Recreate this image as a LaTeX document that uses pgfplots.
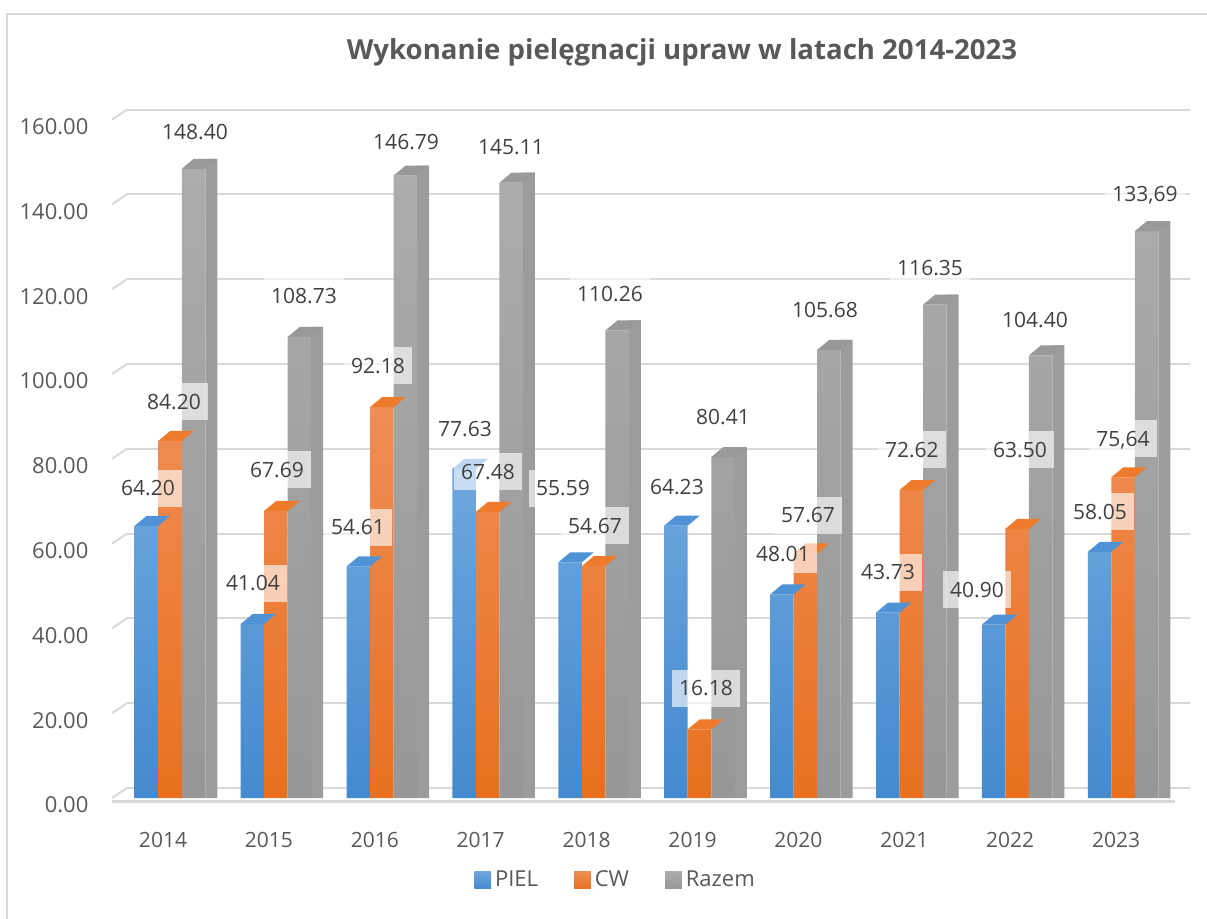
\documentclass[border=0pt]{standalone}
\usepackage{pgfplots}
\pgfplotsset{compat=1.18}
\usepackage{pgfplotstable}
\usepackage{fontspec}
\setmainfont{Open Sans}
\definecolor{txt}{HTML}{595959}
\definecolor{lbl}{HTML}{404040}
\definecolor{gridc}{HTML}{D9D9D9}
\definecolor{framec}{HTML}{D9D9D9}
\definecolor{bluetop}{HTML}{6FA7DD}
\definecolor{bluebot}{HTML}{438ACF}
\definecolor{bluecap}{HTML}{4F93D6}
\definecolor{ortop}{HTML}{F08D55}
\definecolor{orbot}{HTML}{E8701F}
\definecolor{orcap}{HTML}{EE7A2C}
\definecolor{grtop}{HTML}{ACACAC}
\definecolor{grbot}{HTML}{979797}
\definecolor{grcap}{HTML}{999999}
\definecolor{grside}{HTML}{9C9C9C}

\pgfdeclareplotmark{capmark}{%
  \pgfpathmoveto{\pgfqpoint{-5.875bp}{0bp}}%
  \pgfpathlineto{\pgfqpoint{5.875bp}{0bp}}%
  \pgfpathlineto{\pgfqpoint{11.875bp}{5bp}}%
  \pgfpathlineto{\pgfqpoint{0.125bp}{5bp}}%
  \pgfpathclose
  \pgfusepathqfill}

\pgfplotstableread{
x PIEL CW Razem
0 64.20 84.20 148.40
1 41.04 67.69 108.73
2 54.61 92.18 146.79
3 77.63 67.48 145.11
4 55.59 54.67 110.26
5 64.23 16.18 80.41
6 48.01 57.67 105.68
7 43.73 72.62 116.35
8 40.90 63.50 104.40
9 58.05 75.64 133.69
}\datatable

\pgfplotstableread{
lx ly lab
-0.208 73.1 64.20
0.784 50.7 41.04
1.775 63.9 54.61
2.786 87.0 77.63
3.711 73.1 55.59
4.787 73.3 64.23
5.788 57.5 48.01
6.780 53.3 43.73
7.620 49.1 40.90
8.782 67.5 58.05
0.038 93.4 84.20
1.010 77.4 67.69
1.964 101.9 92.18
3.003 76.9 67.48
4.013 64.2 54.67
5.061 25.9 16.18
6.025 66.7 57.67
7.006 82.1 72.62
8.026 82.1 63.50
8.999 84.7 75,64
0.236 157.1 148.40
1.265 118.4 108.73
2.229 154.7 146.79
3.220 153.5 145.11
4.155 118.9 110.26
5.222 89.9 80.41
6.185 115.1 105.68
7.177 125.0 116.35
8.168 112.7 104.40
9.207 142.5 133,69
}\labtable

\begin{document}
\begin{tikzpicture}
\useasboundingbox (0bp,0bp) rectangle (603.5bp,459.5bp);
\draw[framec, line width=1bp] (3.5bp,-2bp) -- (3.5bp,452.5bp) -- (605bp,452.5bp);
\node[font=\bfseries\fontsize{13.8bp}{16bp}\selectfont, text=txt] at (341bp,433.5bp) {Wykonanie pielęgnacji upraw w latach 2014-2023};
\begin{axis}[
  at={(63.5bp,60.5bp)}, anchor=south west,
  scale only axis, width=531.5bp, height=344.5bp,
  xmin=-0.406, xmax=9.632, ymin=0, ymax=162.5,
  clip=false,
  axis line style={draw=none}, tick style={draw=none},
  xtick={-0.066,0.934,1.934,2.934,3.934,4.934,5.934,6.934,7.934,8.934},
  xticklabels={2014,2015,2016,2017,2018,2019,2020,2021,2022,2023},
  ytick={2.36,22.36,42.36,62.36,82.36,102.36,122.36,142.36,162.36},
  yticklabels={0.00,20.00,40.00,60.00,80.00,100.00,120.00,140.00,160.00},
  xticklabel style={font=\fontsize{10.5bp}{12bp}\selectfont, text=txt, yshift=-13.5bp},
  yticklabel style={font=\fontsize{11bp}{13bp}\selectfont, text=txt, xshift=-15.8bp, yshift=-8.5bp},
  ymajorgrids, grid style={gridc, line width=1bp},
  legend style={at={(0.4605,-0.119)}, anchor=center, draw=none, fill=none,
    legend columns=3, font=\fontsize{11bp}{13bp}\selectfont, text=txt,
    /tikz/every even column/.append style={column sep=16bp}},
]
% side face of the grey bars
\addplot[ybar, bar width=0.1133, bar shift=0.3897, fill=grside, draw=none, forget plot]
  table[x=x, y expr=\thisrow{Razem}+2.36]{\datatable};
% top caps
\addplot[only marks, mark=capmark, color=bluecap, forget plot]
  table[x expr=\thisrow{x}-0.222, y=PIEL]{\datatable};
\addplot[only marks, mark=capmark, color=orcap, forget plot]
  table[x expr=\thisrow{x}, y=CW]{\datatable};
\addplot[only marks, mark=capmark, color=grcap, forget plot]
  table[x expr=\thisrow{x}+0.222, y=Razem]{\datatable};
% front faces
\addplot[ybar, bar width=0.222, bar shift=-0.222, draw=none, top color=bluetop, bottom color=bluebot,
  legend image code/.code={\node[inner sep=0pt, minimum width=8.4bp, minimum height=8.4bp, top color=bluetop, bottom color=bluebot] at (4.2bp,0bp) {};}]
  table[x=x, y=PIEL]{\datatable};
\addlegendentry{PIEL}
\addplot[ybar, bar width=0.222, bar shift=0, draw=none, top color=ortop, bottom color=orbot,
  legend image code/.code={\node[inner sep=0pt, minimum width=8.4bp, minimum height=8.4bp, top color=ortop, bottom color=orbot] at (4.2bp,0bp) {};}]
  table[x=x, y=CW]{\datatable};
\addlegendentry{CW}
\addplot[ybar, bar width=0.222, bar shift=0.222, draw=none, top color=grtop, bottom color=grbot,
  legend image code/.code={\node[inner sep=0pt, minimum width=8.4bp, minimum height=8.4bp, top color=grtop, bottom color=grbot] at (4.2bp,0bp) {};}]
  table[x=x, y=Razem]{\datatable};
\addlegendentry{Razem}
% data labels
\addplot[draw=none, mark=none, forget plot, point meta=explicit symbolic,
  nodes near coords, nodes near coords align={center},
  nodes near coords style={anchor=center, font=\fontsize{10.5bp}{12bp}\selectfont, text=lbl,
    fill=white, fill opacity=0.63, text opacity=1, inner xsep=3.5bp, inner ysep=5.5bp,
    text height=7.5bp, text depth=0bp}]
  table[x=lx, y=ly, meta=lab]{\labtable};
% floor and grid stubs
\draw[gridc, line width=1.5bp] (axis cs:-0.548,-0.8) -- (axis cs:9.49,-0.8);
\pgfplotsinvokeforeach{0,20,...,160}{\draw[gridc, line width=1bp] (axis cs:-0.548,#1) -- ++(7.5bp,5bp);}
\end{axis}
\end{tikzpicture}
\end{document}
